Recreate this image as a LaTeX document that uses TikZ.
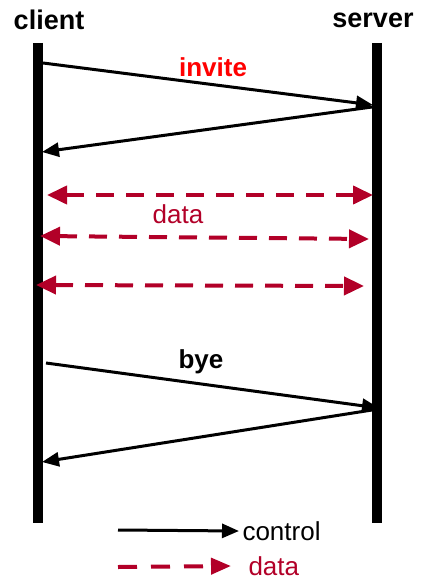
\documentclass[tikz,border=0pt]{standalone}
\usepackage{fontspec}
\setmainfont{Liberation Sans}
\usetikzlibrary{arrows.meta}
\definecolor{datared}{RGB}{178,0,40}

\begin{document}
\begin{tikzpicture}[x=1pt,y=-1pt,
  life/.style={line width=10pt},
  ctrl/.style={line width=3pt,-{Triangle[length=17pt,width=14pt]}},
  dat/.style={datared,line width=4pt,dash pattern=on 18pt off 12pt},
  who/.style={font=\fontsize{27}{30}\selectfont\bfseries},
  lbl/.style={font=\fontsize{26}{30}\selectfont}]
\useasboundingbox (0,0) rectangle (422,585);

\node[who] (client) at (49,20) {client};
\node[who] (server) at (373,20) {server};
\coordinate (ctop) at (38,43);
\coordinate (cbot) at (38,523);
\coordinate (stop) at (377,43);
\coordinate (sbot) at (377,523);
\draw[life] (ctop) -- (cbot);
\draw[life] (stop) -- (sbot);

\coordinate (inv1) at (43,63);
\coordinate (inv2) at (373,105);
\coordinate (inv3) at (372,107);
\coordinate (inv4) at (42,152);
\draw[ctrl] (inv1) -- (inv2);
\draw[ctrl] (inv3) -- (inv4);
\node[who,red,font=\fontsize{26}{30}\selectfont\bfseries] (invite) at (213,67) {invite};

\coordinate (d1l) at (47,195);
\coordinate (d1r) at (373,195);
\coordinate (d2l) at (40,236);
\coordinate (d2r) at (369,239);
\coordinate (d3l) at (36,285);
\coordinate (d3r) at (364,286);
\draw[dat,{Triangle[length=20pt,width=18pt]}-{Triangle[length=20pt,width=18pt]}] (d1l) -- (d1r);
\draw[dat,{Triangle[length=20pt,width=18pt]}-{Triangle[length=20pt,width=18pt]}] (d2l) -- (d2r);
\draw[dat,{Triangle[length=20pt,width=18pt]}-{Triangle[length=20pt,width=18pt]}] (d3l) -- (d3r);
\node[lbl,datared] (data) at (178,214) {data};

\coordinate (bye1) at (46,363);
\coordinate (bye2) at (379,408);
\coordinate (bye3) at (372,410);
\coordinate (bye4) at (42,462);
\draw[ctrl] (bye1) -- (bye2);
\draw[ctrl] (bye3) -- (bye4);
\node[who,font=\fontsize{26}{30}\selectfont\bfseries] (bye) at (201,362) {bye};

\node[lbl,anchor=west] (kctrl) at (239,531) {control};
\node[lbl,anchor=west,datared] (kdata) at (245,566) {data};
\coordinate (kc) at (118,530);
\coordinate (kd) at (118,567);
\draw[ctrl] (kc) -- (kctrl.west);
\draw[dat,dash pattern=on 19pt off 14pt,-{Triangle[length=20pt,width=16pt]}] (kd) -- ([xshift=-14pt]kdata.west);
\end{tikzpicture}
\end{document}
